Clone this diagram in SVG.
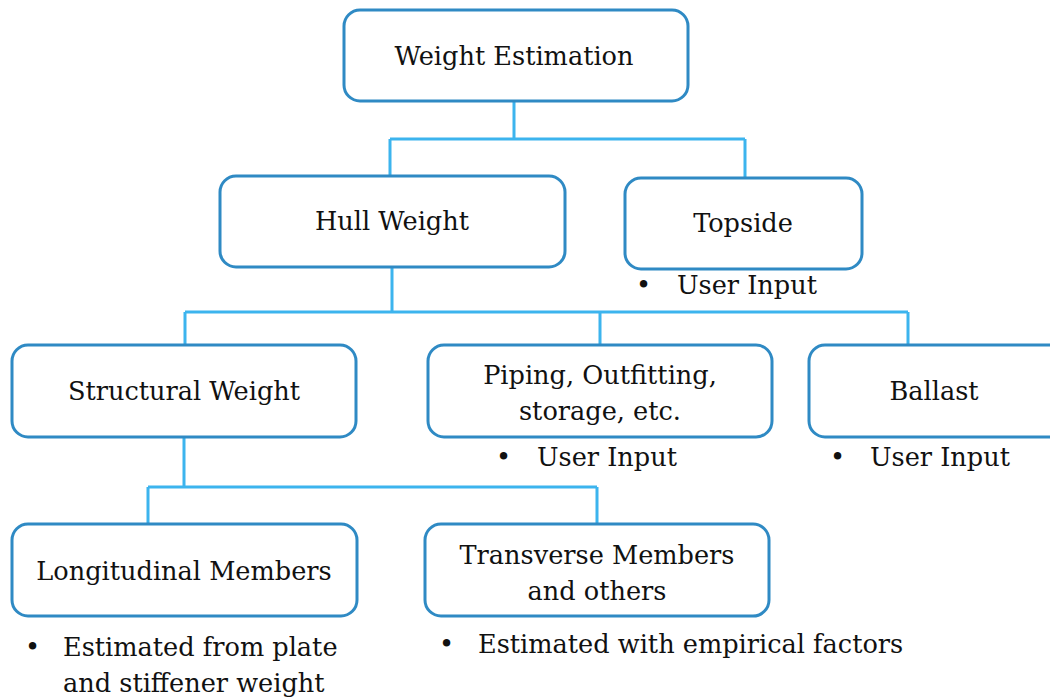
<svg xmlns="http://www.w3.org/2000/svg" width="1050" height="700" viewBox="0 0 1050 700">
  <style>
    .box { fill: #ffffff; stroke: #2f8ac4; stroke-width: 3; }
    .conn { fill: none; stroke: #3cb4ee; stroke-width: 3; }
    text { font-family: "DejaVu Serif", "Liberation Serif", serif; font-size: 25.6px; fill: #111111; }
    .c { text-anchor: middle; }
  </style>
  <rect width="1050" height="700" fill="#ffffff"/>

  <!-- tree connectors -->
  <g id="connectors">
    <path class="conn" d="M514 101 V139 M390 139 H745 M390 139 V175 M745 139 V178"/>
    <path class="conn" d="M392 267 V312 M185 312 H908 M185 312 V344 M600 312 V344 M908 312 V344"/>
    <path class="conn" d="M184 437 V487 M148 487 H597 M148 487 V523 M597 487 V523"/>
  </g>

  <g id="weight-estimation">
    <rect class="box" x="344" y="10" width="344" height="91" rx="16"/>
    <text class="c" x="514" y="65">Weight Estimation</text>
  </g>

  <g id="hull-weight">
    <rect class="box" x="220" y="176" width="345" height="91" rx="16"/>
    <text class="c" x="392" y="230">Hull Weight</text>
  </g>

  <g id="topside">
    <rect class="box" x="625" y="178" width="237" height="91" rx="16"/>
    <text class="c" x="743" y="232">Topside</text>
    <text x="636" y="294">•</text>
    <text x="677" y="294">User Input</text>
  </g>

  <g id="structural-weight">
    <rect class="box" x="12" y="345" width="344" height="92" rx="16"/>
    <text class="c" x="184" y="400">Structural Weight</text>
  </g>

  <g id="piping">
    <rect class="box" x="428" y="345" width="344" height="92" rx="16"/>
    <text class="c" x="600" y="384">Piping, Outfitting,</text>
    <text class="c" x="600" y="420">storage, etc.</text>
    <text x="496" y="466">•</text>
    <text x="537" y="466">User Input</text>
  </g>

  <g id="ballast">
    <rect class="box" x="809" y="345" width="260" height="92" rx="16"/>
    <text class="c" x="934" y="400">Ballast</text>
    <text x="830" y="466">•</text>
    <text x="870" y="466">User Input</text>
  </g>

  <g id="longitudinal-members">
    <rect class="box" x="12" y="524" width="345" height="92" rx="16"/>
    <text class="c" x="184" y="580">Longitudinal Members</text>
    <text x="25" y="656">•</text>
    <text x="63" y="656">Estimated from plate</text>
    <text x="63" y="692">and stiffener weight</text>
  </g>

  <g id="transverse-members">
    <rect class="box" x="425" y="524" width="344" height="92" rx="16"/>
    <text class="c" x="597" y="564">Transverse Members</text>
    <text class="c" x="597" y="600">and others</text>
    <text x="439" y="653">•</text>
    <text x="478" y="653">Estimated with empirical factors</text>
  </g>
</svg>
